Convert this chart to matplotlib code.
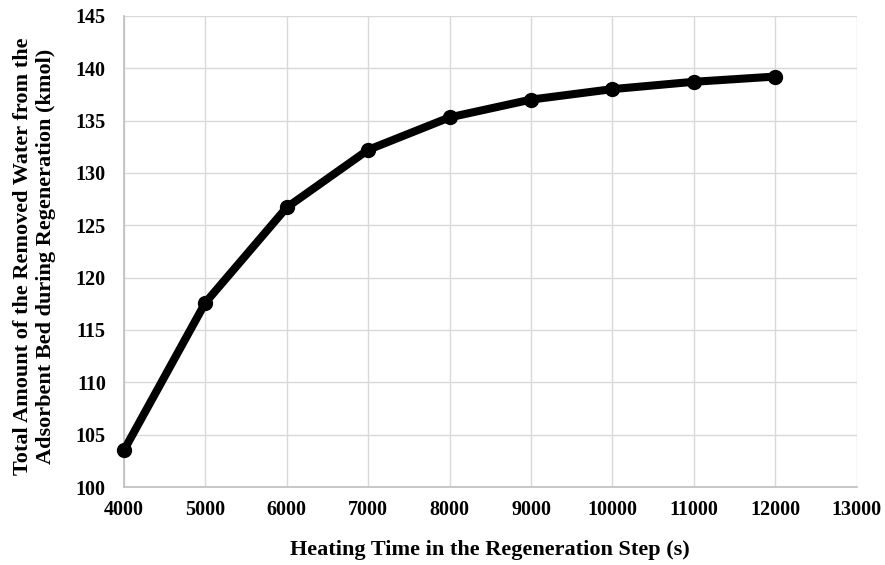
import matplotlib
matplotlib.use("Agg")
import matplotlib.pyplot as plt

heating_time = [4000, 5000, 6000, 7000, 8000, 9000, 10000, 11000, 12000]
removed_water = [103.5, 117.6, 126.7, 132.2, 135.3, 137.0, 138.0, 138.7, 139.2]
x_ticks = [4000, 5000, 6000, 7000, 8000, 9000, 10000, 11000, 12000, 13000]
y_ticks = [100, 105, 110, 115, 120, 125, 130, 135, 140, 145]

plt.rcParams['font.family'] = ['Liberation Serif', 'DejaVu Serif']
plt.rcParams['font.weight'] = 'bold'

fig = plt.figure(figsize=(8.85, 5.65), dpi=100)
ax = fig.add_axes([0.140, 0.138, 0.828, 0.834])

ax.plot(heating_time, removed_water, color='black', linewidth=5.8,
        marker='o', markersize=10, markerfacecolor='black',
        markeredgecolor='black', solid_joinstyle='round', zorder=3,
        clip_on=False)

ax.set_xlim(4000, 13000)
ax.set_ylim(100, 145)
ax.set_xticks(x_ticks)
ax.set_yticks(y_ticks)
ax.grid(True, color='#d9d9d9', linewidth=1.0)
ax.set_axisbelow(True)
for s in ['top', 'right']:
    ax.spines[s].set_visible(False)
for s in ['left', 'bottom']:
    ax.spines[s].set_color('#bfbfbf')
    ax.spines[s].set_linewidth(1.2)
ax.tick_params(axis='x', length=0, labelsize=14.5, pad=9)
ax.tick_params(axis='y', length=0, labelsize=14.5, pad=13)
for lbl in ax.get_xticklabels() + ax.get_yticklabels():
    lbl.set_fontweight('bold')

ax.set_xlabel('Heating Time in the Regeneration Step (s)', fontsize=16,
              fontweight='bold', labelpad=15)
ax.set_ylabel('Total Amount of the Removed Water from the\nAdsorbent Bed during Regeneration (kmol)',
              fontsize=16, fontweight='bold', linespacing=1.2)
ax.yaxis.set_label_coords(-0.092, 0.49)

fig.savefig('out.png', dpi=100)
